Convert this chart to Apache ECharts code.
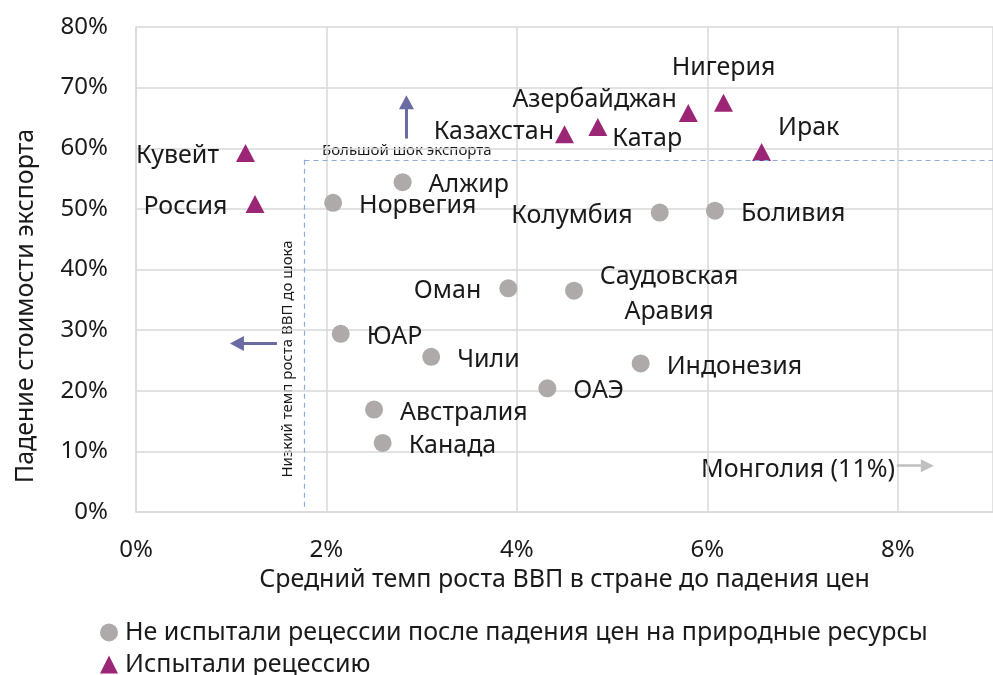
<!DOCTYPE html>
<html>
<head>
<meta charset="utf-8">
<script src="https://cdn.jsdelivr.net/npm/echarts@6/dist/echarts.min.js"></script>
<style>
  html, body { margin: 0; padding: 0; background: #fff; }
  #chart { width: 993px; height: 675px; }
</style>
</head>
<body>
<div id="chart"></div>
<script>
// --- data (x: GDP growth %, y: export value drop %) ---
var noRecessionNames = ['Алжир', 'Норвегия', 'Колумбия', 'Боливия', 'Оман', 'Саудовская Аравия',
                        'ЮАР', 'Чили', 'Индонезия', 'ОАЭ', 'Австралия', 'Канада'];
var noRecessionX = [2.80, 2.07, 5.50, 6.08, 3.91, 4.60, 2.15, 3.10, 5.30, 4.32, 2.50, 2.59];
var noRecessionY = [54.4, 51.0, 49.4, 49.7, 36.9, 36.5, 29.4, 25.6, 24.5, 20.4, 16.9, 11.4];

var recessionNames = ['Кувейт', 'Россия', 'Казахстан', 'Катар', 'Азербайджан', 'Нигерия', 'Ирак'];
var recessionX = [1.15, 1.25, 4.50, 4.85, 5.80, 6.17, 6.57];
var recessionY = [59.2, 50.8, 62.3, 63.5, 65.8, 67.5, 59.4];

// threshold lines: low growth / big export shock
var lowGrowthX = 1.77;
var bigShockY = 58.1;

var seriesNames = ['Не испытали рецессии после падения цен на природные ресурсы', 'Испытали рецессию'];
var xTicks = [0, 2, 4, 6, 8];
var yTicks = [0, 10, 20, 30, 40, 50, 60, 70, 80];

var FONT = '"Noto Sans", "Open Sans", sans-serif';
var TXT = '#1a1a1a';

// where each country name sits next to its marker
var labelPlace = {
    'Алжир': ['right', 17, [0, 3]],
    'Норвегия': ['right', 17, [0, 3]],
    'Колумбия': ['left', 18, [0, 3]],
    'Боливия': ['right', 17, [0, 3]],
    'Оман': ['left', 18, [0, 3]],
    'ЮАР': ['right', 17, [0, 3]],
    'Чили': ['right', 17, [0, 3]],
    'Индонезия': ['right', 17, [0, 3]],
    'ОАЭ': ['right', 17, [0, 3]],
    'Австралия': ['right', 17, [0, 3]],
    'Канада': ['right', 17, [0, 3]],
    'Кувейт': ['left', 17, [0, 3]],
    'Россия': ['left', 18, [0, 3]],
    'Казахстан': ['left', 1, [0, -2]],
    'Катар': ['right', 5, [0, 12]],
    'Азербайджан': ['left', 2, [0, -13]],
    'Нигерия': ['top', 13, [0, 0]],
    'Ирак': ['right', 7, [0, -24]]
};

function buildPoints(names, xs, ys) {
    return names.map(function (n, i) {
        var item = { name: n, value: [xs[i], ys[i]] };
        if (n === 'Саудовская Аравия') {
            item.label = {
                position: 'right', distance: 86, align: 'center', offset: [0, 4],
                formatter: 'Саудовская\nАравия', lineHeight: 35
            };
        } else {
            var p = labelPlace[n];
            item.label = { position: p[0], distance: p[1], offset: p[2] };
        }
        return item;
    });
}

var chart = echarts.init(document.getElementById('chart'), null, { renderer: 'canvas' });

var arrowStyle = { color: '#6b6ba3', width: 3, type: 'solid' };
var dashStyle = { color: '#8faadc', width: 1.2, type: [5, 4] };

var option = {
    animation: false,
    textStyle: { fontFamily: FONT },
    grid: { left: 136, right: -5, top: 27, bottom: 163 },
    xAxis: {
        type: 'value', min: 0, max: 9, interval: 2,
        name: 'Средний темп роста ВВП в стране до падения цен',
        nameLocation: 'middle', nameGap: 53,
        nameTextStyle: { fontSize: 25, color: TXT, fontFamily: FONT },
        axisLine: { show: true, lineStyle: { color: '#d9d9d9', width: 1.5 } },
        axisTick: { show: false },
        axisLabel: {
            fontSize: 24, color: TXT, margin: 26, showMaxLabel: false,
            formatter: function (v) { return xTicks.indexOf(v) >= 0 ? v + '%' : ''; }
        },
        splitLine: { show: true, lineStyle: { color: '#d9d9d9', width: 1.5 } }
    },
    yAxis: {
        type: 'value', min: 0, max: 80, interval: 10,
        axisLine: { show: true, lineStyle: { color: '#d9d9d9', width: 1.5 } },
        axisTick: { show: false },
        axisLabel: {
            fontSize: 24, color: TXT, margin: 28,
            formatter: function (v) { return yTicks.indexOf(v) >= 0 ? v + '%' : ''; }
        },
        splitLine: { show: true, lineStyle: { color: '#d9d9d9', width: 1.5 } }
    },
    legend: {
        data: seriesNames,
        orient: 'vertical',
        left: 100, top: 620, height: 100,
        padding: 0,
        itemWidth: 18, itemHeight: 18, itemGap: 7,
        textStyle: { fontSize: 25, color: TXT, lineHeight: 25, padding: [0, 0, 0, 2] },
        selectedMode: false
    },
    graphic: [
        {
            type: 'text', x: 26, y: 306, rotation: Math.PI / 2,
            style: { text: 'Падение стоимости экспорта', font: '25px ' + FONT, fill: TXT,
                     align: 'center', verticalAlign: 'middle' }
        },
        {
            type: 'text', x: 322, y: 151,
            style: { text: 'Большой шок экспорта', font: '15px ' + FONT, fill: TXT,
                     align: 'left', verticalAlign: 'middle' }
        },
        {
            type: 'text', x: 288, y: 359, rotation: Math.PI / 2,
            style: { text: 'Низкий темп роста ВВП до шока', font: '15px ' + FONT, fill: TXT,
                     align: 'center', verticalAlign: 'middle' }
        },
        {
            type: 'text', x: 895, y: 470,
            style: { text: 'Монголия (11%)', font: '25px ' + FONT, fill: TXT,
                     align: 'right', verticalAlign: 'middle' }
        }
    ],
    series: [
        {
            name: seriesNames[0],
            type: 'scatter',
            symbol: 'circle',
            symbolSize: 18,
            itemStyle: { color: '#aeaaaa', opacity: 1 },
            label: { show: true, fontSize: 25, color: TXT, fontFamily: FONT,
                     formatter: function (p) { return p.name; } },
            emphasis: { disabled: true },
            data: buildPoints(noRecessionNames, noRecessionX, noRecessionY),
            markLine: {
                silent: true, animation: false,
                symbol: ['none', 'none'],
                label: { show: false },
                emphasis: { disabled: true },
                data: [
                    [{ coord: [lowGrowthX, bigShockY], lineStyle: dashStyle }, { coord: [9, bigShockY] }],
                    [{ coord: [lowGrowthX, bigShockY], lineStyle: dashStyle }, { coord: [lowGrowthX, 0.8] }],
                    [{ coord: [2.84, 61.6], lineStyle: arrowStyle },
                     { coord: [2.84, 67.6], symbol: 'triangle', symbolSize: [15, 14] }],
                    [{ coord: [1.48, 27.8], lineStyle: arrowStyle },
                     { coord: [1.06, 27.8], symbol: 'triangle', symbolSize: [15, 14] }],
                    [{ coord: [7.99, 7.64], lineStyle: { color: '#bfbfbf', width: 2.5, type: 'solid' } },
                     { coord: [8.31, 7.64], symbol: 'triangle', symbolSize: [13, 13] }]
                ]
            }
        },
        {
            name: seriesNames[1],
            type: 'scatter',
            symbol: 'triangle',
            symbolSize: [19, 18],
            itemStyle: { color: '#9c2676', opacity: 1 },
            label: { show: true, fontSize: 25, color: TXT, fontFamily: FONT,
                     formatter: function (p) { return p.name; } },
            emphasis: { disabled: true },
            data: buildPoints(recessionNames, recessionX, recessionY)
        }
    ]
};

chart.setOption(option);
</script>
</body>
</html>
